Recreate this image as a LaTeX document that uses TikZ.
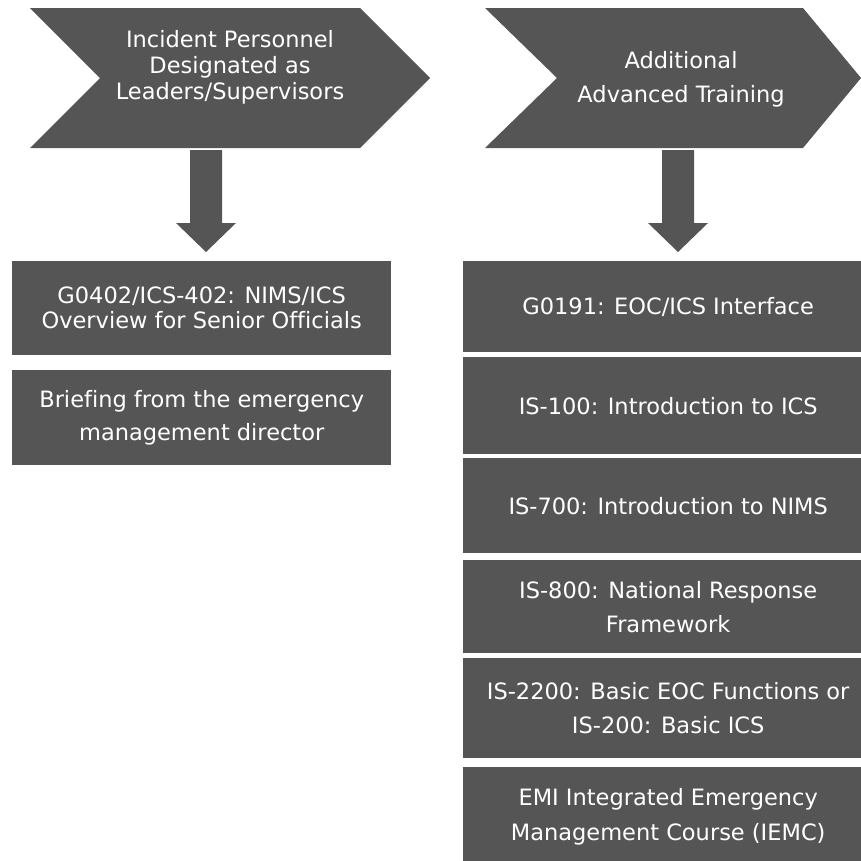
\documentclass[tikz,border=0pt]{standalone}
\usepackage{fontspec}
\setmainfont{DejaVu Sans}[Ligatures=NoCommon]
\definecolor{boxgray}{HTML}{555555}
\begin{document}
\begin{tikzpicture}[x=1pt,y=-1pt,
  boxnode/.style={fill=boxgray, text=white, inner sep=0pt, align=center, anchor=north west},
  chevtext/.style={text=white, inner sep=0pt, align=center},
  downarrow/.pic={\fill[boxgray] (-16,0) -- (16,0) -- (16,73) -- (30,73) -- (0,102) -- (-30,73) -- (-16,73) -- cycle;}
]
\useasboundingbox (0,0) rectangle (861,860);
\clip (0,0) rectangle (861,860);

% chevrons
\fill[boxgray] (30,8) -- (360,8) -- (430,78) -- (360,148) -- (30,148) -- (100,78) -- cycle;
\node[chevtext, font=\fontsize{22.5}{26}\selectfont] (c1) at (230,67)
  {Incident Personnel\\Designated as\\Leaders/Supervisors};
\fill[boxgray] (485,8) -- (803,8) -- (861,78) -- (803,148) -- (485,148) -- (557,78) -- cycle;
\node[chevtext, font=\fontsize{22.5}{34}\selectfont] (c2) at (681,79)
  {Additional\\Advanced Training};

% arrows
\pic at (206,150) {downarrow};
\pic at (678,150) {downarrow};

% left boxes
\node[boxnode, minimum width=379pt, minimum height=94pt, font=\fontsize{22.5}{25}\selectfont] (l1) at (12,261)
  {G0402/ICS-402: NIMS/ICS\\Overview for Senior Officials};
\node[boxnode, minimum width=379pt, minimum height=95pt, font=\fontsize{22.5}{33}\selectfont] (l2) at (12,370)
  {Briefing from the emergency\\management director};

% right boxes
\node[boxnode, minimum width=410pt, minimum height=91pt, font=\fontsize{22.5}{34}\selectfont] (r1) at (463,261)
  {G0191: EOC/ICS Interface};
\node[boxnode, minimum width=410pt, minimum height=97pt, font=\fontsize{22.5}{34}\selectfont] (r2) at (463,357)
  {IS-100: Introduction to ICS};
\node[boxnode, minimum width=410pt, minimum height=95pt, font=\fontsize{22.5}{34}\selectfont] (r3) at (463,458)
  {IS-700: Introduction to NIMS};
\node[boxnode, minimum width=410pt, minimum height=93pt, font=\fontsize{22.5}{34}\selectfont] (r4) at (463,560)
  {IS-800: National Response\\Framework};
\node[boxnode, minimum width=410pt, minimum height=100pt, font=\fontsize{22.5}{34}\selectfont] (r5) at (463,658)
  {IS-2200: Basic EOC Functions or\\IS-200: Basic ICS};
\node[boxnode, minimum width=410pt, minimum height=100pt, font=\fontsize{22.5}{35}\selectfont] (r6) at (463,767)
  {EMI Integrated Emergency\\Management Course (IEMC)};
\end{tikzpicture}
\end{document}
